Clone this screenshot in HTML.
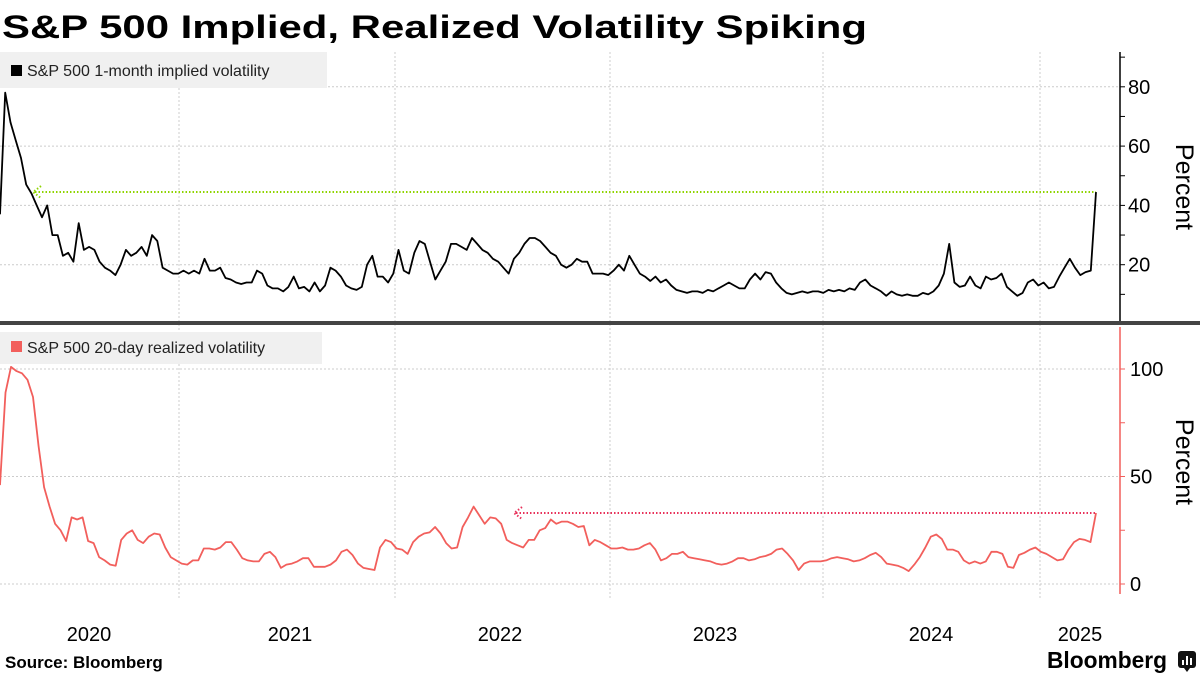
<!DOCTYPE html>
<html><head><meta charset="utf-8"><style>
html,body{margin:0;padding:0;background:#fff;}
svg{display:block;font-family:"Liberation Sans","DejaVu Sans",sans-serif;}
</style></head><body>
<svg id="chart" width="1200" height="675" viewBox="0 0 1200 675" xmlns="http://www.w3.org/2000/svg">
<text x="2" y="38" font-size="32" font-weight="bold" textLength="865" lengthAdjust="spacingAndGlyphs">S&amp;P 500 Implied, Realized Volatility Spiking</text>
<g id="grid"></g>
<g id="gtop"></g>
<g id="gbot"></g>
<rect x="0" y="321" width="1200" height="4" fill="#444"/>
<rect x="0" y="52" width="327" height="36" fill="#f0f0f0"/>
<rect x="11" y="65" width="11" height="11" fill="#000"/>
<text x="27" y="76" font-size="16" fill="#222">S&amp;P 500 1-month implied volatility</text>
<rect x="0" y="332" width="322" height="32" fill="#f0f0f0"/>
<rect x="11" y="341" width="11" height="11" fill="#f25f5c"/>
<text x="27" y="353" font-size="16" fill="#222">S&amp;P 500 20-day realized volatility</text>
<text x="5" y="668" font-size="17" font-weight="bold">Source:  Bloomberg</text>
<text x="1047" y="668" font-size="23" font-weight="bold" textLength="120" lengthAdjust="spacingAndGlyphs">Bloomberg</text>
<g>
<rect x="1178" y="651" width="18" height="17" rx="3" fill="#111"/><path d="M1184 668 l3 4 l3 -4z" fill="#111"/>
<rect x="1182" y="660" width="2" height="5" fill="#fff"/><rect x="1186" y="656" width="2" height="9" fill="#fff"/><rect x="1190" y="658" width="2" height="7" fill="#fff"/>
</g>
</svg>
<script>
const yearLabels = ["2020","2021","2022","2023","2024","2025"];
const yearLabelX = [89, 290, 500, 715, 931, 1080];
const yearGridX = [179, 395, 610, 823, 1040];
const impliedTicks = [20, 40, 60, 80];
const realizedTicks = [0, 50, 100];
const impliedValues = [37,78,68,62,56,47,44,40,36,40,30,30,23,24,21,34,25,26,25,21,19,18,16.5,20,25,23,24,26,23,30,28,19,18,17,17,18,17,18,17,22,18,18,19,15.5,15,14,13.5,14,14,18,17,13,12,12,11,12.5,16,12,12.5,11,14,11,13,19,18,16,13,12,11.5,12.5,20,23,16,16,14,17,25,18,17,24,28,27,21,15,18,21,27,27,26,25,29,27,25,24,22,21,19,17,22,24,27,29,29,28,26,24,23,20,19,20,22,
21,21,17,17,17,16.5,18,20,18,23,20,17,16,14.5,16,14,15,13,11.5,11,10.5,11,11,10.5,11.5,11,12,13,14,13,12,12,15,17,15,17.5,17,14,12,10.5,10,10.5,11,10.5,11,11,10.5,11.5,11,11.5,11,12,11.5,14,15,13,12,11,9.5,11,10,9.5,10,9.5,9.5,10.5,10,11,13,17,27,14,12.5,13,16,13,12,16,15,15.5,17,12.5,11,9.5,10.5,14,15,13,14,12,12.5,16,19,22,19,16.5,17.5,18,44.5];
const realizedValues = [46,89,101,99,98,95,87,64,45,36,28,25,20,31,30,31,20,19,12.5,11,9,8.5,20.5,23.5,25,20.5,19,22,23.5,23,17,12.5,11,9.5,9,11,11,16.5,16.5,16,17,19.5,19.5,16,12,11,10.5,10.5,14,15,12.5,7.5,9,9.5,10.5,12,12,8,8,8,9,11,15,16,13.5,9.5,7.5,7,6.5,17,20.5,19.5,16.5,16,14,19.5,22,23.5,24,26.5,23.5,19,16.5,17,26.5,31,36,32,28,31,30.5,28,20.5,19,18,17,20.5,20.5,25,26,30,28,29,29,28,26.5,27,18,
20.5,19.5,18,16.5,16.5,17,16,16,16.5,18,19,16,11,12,14,14,15,12.5,12,11.5,11,10.5,9.5,9,9.5,10.5,12,12,11,11.5,12.5,13,14,16,16.5,14,11,6.5,9.5,10.5,10.5,10.5,11,12,12.5,12,11.5,10.5,11,12,13.5,14.5,12.5,9.5,9,8.5,7.5,6,9,12.5,17,22,23,21,16,16,15,11,9.5,10.5,9.5,10.5,15,15,14,8,7.5,13.5,14.5,16,17,15,14,12.5,11,11.5,16,19.5,21,20.5,19.5,33];
const impliedArrowStartX = 33;
const realizedArrowStartX = 514;

const NS = "http://www.w3.org/2000/svg";
const X0 = 0, X1 = 1096, AXIS_X = 1120;
function xIdx(i, n){ return X0 + (X1 - X0) * i / (n - 1); }
function yTop(v){ return 324 - v * 2.965; }
function yBot(v){ return 584 - v * 2.15; }
function mk(tag, attrs, parent){ const e = document.createElementNS(NS, tag); for (const k in attrs) e.setAttribute(k, attrs[k]); parent.appendChild(e); return e; }
const grid = document.getElementById('grid'), gTop = document.getElementById('gtop'), gBot = document.getElementById('gbot'), svg = document.getElementById('chart');

yearGridX.forEach(x => {
  const l = mk('line', {x1:x, x2:x, y1:52, y2:598, stroke:'#ccc', 'stroke-dasharray':'2,2'}, grid);
  
  
});
impliedTicks.forEach(v => {
  const l = mk('line', {x1:0, x2:AXIS_X, y1:yTop(v), y2:yTop(v), stroke:'#ccc', 'stroke-dasharray':'2,2'}, grid);
  
  
  const t = mk('text', {x:AXIS_X + 8, y:yTop(v) + 7, 'font-size':20}, gTop);
  t.textContent = v;
  
  
});
for (let v = 10; v <= 90; v += 10) {
  const tk = mk('line', {x1:AXIS_X, x2:AXIS_X + 5, y1:yTop(v), y2:yTop(v), stroke:'#000'}, gTop);
  
  
}
realizedTicks.forEach(v => {
  const l = mk('line', {x1:0, x2:AXIS_X, y1:yBot(v), y2:yBot(v), stroke:'#ccc', 'stroke-dasharray':'2,2'}, grid);
  
  
  const t = mk('text', {x:AXIS_X + 10, y:yBot(v) + 7, 'font-size':20}, gBot);
  t.textContent = v;
  
  
});
for (let v = 0; v <= 100; v += 25) {
  const tk = mk('line', {x1:AXIS_X, x2:AXIS_X + 5, y1:yBot(v), y2:yBot(v), stroke:'#f25f5c'}, gBot);
  
  
}
const ta = mk('line', {x1:AXIS_X, x2:AXIS_X, y1:52, y2:322, stroke:'#000', 'stroke-width':1.5}, gTop);


const ba = mk('line', {x1:AXIS_X, x2:AXIS_X, y1:327, y2:594, stroke:'#f25f5c', 'stroke-width':1.5}, gBot);



[[gTop, 187, 'implied-y-title'], [gBot, 462, 'realized-y-title']].forEach(([g, cy, nm]) => {
  const t = mk('text', {x:0, y:0, 'font-size':25, 'text-anchor':'middle', transform:`translate(1176 ${cy}) rotate(90)`}, g);
  t.textContent = 'Percent';
  
  
});

yearLabels.forEach((s, i) => {
  const t = mk('text', {x:yearLabelX[i], y:641, 'font-size':20, 'text-anchor':'middle'}, svg);
  t.textContent = s;
  
  
});

function path(vals, yf){ return vals.map((v, i) => (i ? 'L' : 'M') + xIdx(i, vals.length).toFixed(1) + ' ' + yf(v).toFixed(1)).join(' '); }

const iLast = impliedValues[impliedValues.length - 1];
const ga = mk('line', {x1:impliedArrowStartX + 2, x2:X1, y1:yTop(iLast), y2:yTop(iLast), stroke:'#8fd400', 'stroke-width':2, 'stroke-dasharray':'1.5,2'}, gTop);


const gh = mk('path', {d:`M${impliedArrowStartX + 8} ${yTop(iLast) - 6} L${impliedArrowStartX} ${yTop(iLast)} L${impliedArrowStartX + 8} ${yTop(iLast) + 6}`, fill:'none', stroke:'#8fd400', 'stroke-width':2, 'stroke-dasharray':'1.5,2'}, gTop);



const rLast = realizedValues[realizedValues.length - 1];
const ra = mk('line', {x1:realizedArrowStartX + 2, x2:X1, y1:yBot(rLast), y2:yBot(rLast), stroke:'#e8315a', 'stroke-width':2, 'stroke-dasharray':'1.5,2'}, gBot);


const rh = mk('path', {d:`M${realizedArrowStartX + 8} ${yBot(rLast) - 6} L${realizedArrowStartX} ${yBot(rLast)} L${realizedArrowStartX + 8} ${yBot(rLast) + 6}`, fill:'none', stroke:'#e8315a', 'stroke-width':2, 'stroke-dasharray':'1.5,2'}, gBot);



const il = mk('path', {d:path(impliedValues, yTop), fill:'none', stroke:'#000', 'stroke-width':1.8, 'stroke-linejoin':'round'}, gTop);


const rl = mk('path', {d:path(realizedValues, yBot), fill:'none', stroke:'#f25f5c', 'stroke-width':1.8, 'stroke-linejoin':'round'}, gBot);


</script>
</body></html>
